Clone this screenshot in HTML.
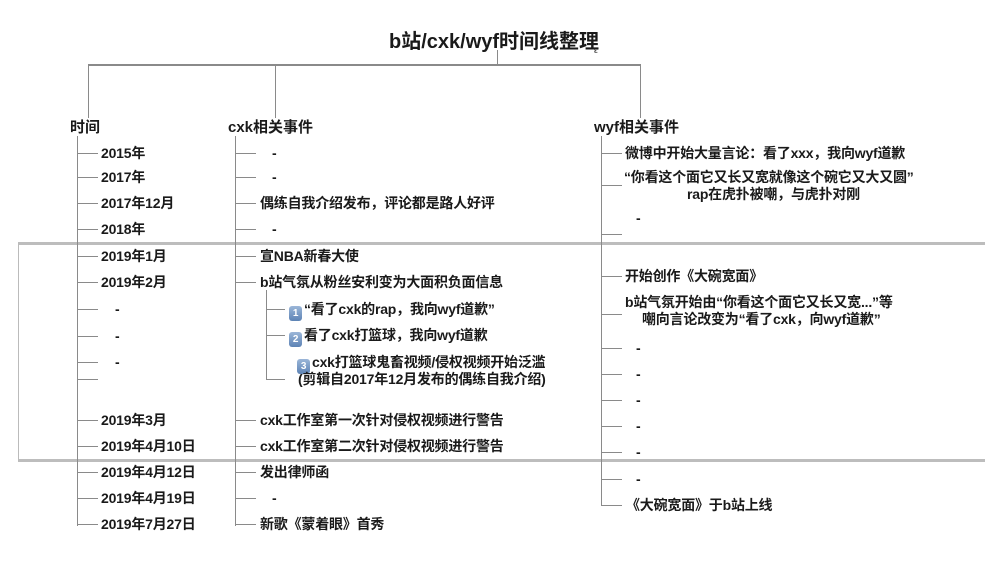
<!DOCTYPE html><html><head><meta charset="utf-8"><style>
body{margin:0;width:1000px;height:564px;background:#fff;position:relative;overflow:hidden;font-family:"Liberation Sans","Noto Sans CJK SC",sans-serif;color:#1a1a1a}
.t{position:absolute;font-size:14px;font-weight:bold;white-space:nowrap;line-height:16px;letter-spacing:-0.2px}
.h{position:absolute;font-size:15px;font-weight:bold;white-space:nowrap}
.l{position:absolute;background:#8a8a8a}
.b{display:inline-block;width:13px;height:15px;border-radius:3px;background:linear-gradient(#9bb6d8,#5d83b5);color:#fff;font-size:10px;text-align:center;line-height:15px;margin-right:2px;vertical-align:-2px}
</style></head><body>
<div class="h" style="left:389px;top:25px;font-size:20px">b站/cxk/wyf时间线整理</div>
<div class="t" style="left:594px;top:44px;font-size:12px;font-weight:normal">ᵋ</div>
<div class="l" style="left:497px;top:50px;width:1px;height:15px"></div>
<div class="l" style="left:88px;top:64px;width:553px;height:2px"></div>
<div class="l" style="left:88px;top:65px;width:1px;height:53px"></div>
<div class="l" style="left:275px;top:65px;width:1px;height:53px"></div>
<div class="l" style="left:640px;top:65px;width:1px;height:53px"></div>
<div class="h" style="left:70px;top:116px">时间</div>
<div class="h" style="left:228px;top:116px">cxk相关事件</div>
<div class="h" style="left:594px;top:116px">wyf相关事件</div>
<div class="l" style="left:18px;top:242px;width:967px;height:3px;background:#bdbdbd"></div>
<div class="l" style="left:18px;top:459px;width:967px;height:3px;background:#bdbdbd"></div>
<div class="l" style="left:18px;top:243px;width:1px;height:218px;background:#bbb"></div>
<div class="l" style="left:77px;top:136px;width:1px;height:390px"></div>
<div class="l" style="left:235px;top:136px;width:1px;height:390px"></div>
<div class="l" style="left:266px;top:290px;width:1px;height:90px"></div>
<div class="l" style="left:601px;top:136px;width:1px;height:370px"></div>
<script>
function tick(x,y,w){document.write('<div class="l" style="left:'+x+'px;top:'+y+'px;width:'+w+'px;height:1px"></div>')}
function txt(x,y,s){document.write('<div class="t" style="left:'+x+'px;top:'+(y-8)+'px">'+s+'</div>')}
var T=[[153,'2015年'],[177,'2017年'],[203,'2017年12月'],[229,'2018年'],[256,'2019年1月'],[282,'2019年2月'],[309,'-'],[336,'-'],[362,'-'],[379,''],[420,'2019年3月'],[446,'2019年4月10日'],[472,'2019年4月12日'],[498,'2019年4月19日'],[524,'2019年7月27日']];
T.forEach(function(r){tick(78,r[0],20);if(r[1]=='-')txt(115,r[0],'-');else txt(101,r[0],r[1]);});
var C=[[153,'-'],[177,'-'],[203,'偶练自我介绍发布，评论都是路人好评'],[229,'-'],[256,'宣NBA新春大使'],[282,'b站气氛从粉丝安利变为大面积负面信息'],[420,'cxk工作室第一次针对侵权视频进行警告'],[446,'cxk工作室第二次针对侵权视频进行警告'],[472,'发出律师函'],[498,'-'],[524,'新歌《蒙着眼》首秀']];
C.forEach(function(r){tick(236,r[0],20);if(r[1]=='-')txt(272,r[0],'-');else txt(260,r[0],r[1]);});
tick(267,309,18);tick(267,335,18);tick(267,379,18);
txt(289,309,'<span class="b">1</span>“看了cxk的rap，我向wyf道歉”');
txt(289,335,'<span class="b">2</span>看了cxk打篮球，我向wyf道歉');
txt(297,362,'<span class="b">3</span>cxk打篮球鬼畜视频/侵权视频开始泛滥');
txt(298,379,'(剪辑自2017年12月发布的偶练自我介绍)');
var W=[153,185,234,276,314,348,374,400,426,452,479,505];
W.forEach(function(y){tick(602,y,20)});
txt(625,153,'微博中开始大量言论：看了xxx，我向wyf道歉');
txt(624,177,'“你看这个面它又长又宽就像这个碗它又大又圆”');
txt(687,194,'rap在虎扑被嘲，与虎扑对刚');
txt(636,218,'-');
txt(625,276,'开始创作《大碗宽面》');
txt(625,302,'b站气氛开始由“你看这个面它又长又宽...”等');
txt(642,319,'嘲向言论改变为“看了cxk，向wyf道歉”');
[348,374,400,426,452,479].forEach(function(y){txt(636,y,'-')});
txt(626,505,'《大碗宽面》于b站上线');
</script>
</body></html>
